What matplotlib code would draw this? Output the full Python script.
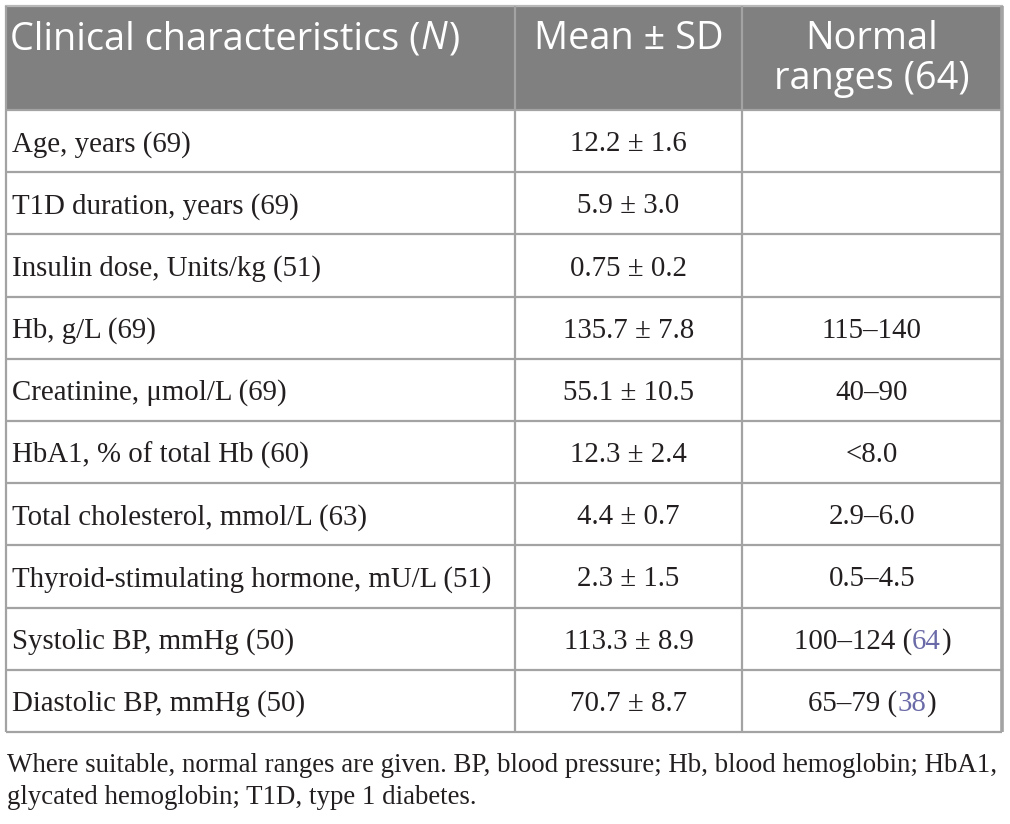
import matplotlib
matplotlib.use("Agg")
import matplotlib.pyplot as plt
from matplotlib.patches import Rectangle

# ---- data ----
header_col1 = [("Clinical characteristics (", "normal"), ("N", "italic"), (")", "normal")]
header_col2 = "Mean ± SD"
header_col3 = ["Normal", "ranges (64)"]

characteristics = [
    "Age, years (69)",
    "T1D duration, years (69)",
    "Insulin dose, Units/kg (51)",
    "Hb, g/L (69)",
    "Creatinine, μmol/L (69)",
    "HbA1, % of total Hb (60)",
    "Total cholesterol, mmol/L (63)",
    "Thyroid-stimulating hormone, mU/L (51)",
    "Systolic BP, mmHg (50)",
    "Diastolic BP, mmHg (50)",
]
mean_sd = ["12.2 ± 1.6", "5.9 ± 3.0", "0.75 ± 0.2", "135.7 ± 7.8", "55.1 ± 10.5",
           "12.3 ± 2.4", "4.4 ± 0.7", "2.3 ± 1.5", "113.3 ± 8.9", "70.7 ± 8.7"]
normal_ranges = ["", "", "", "115–140", "40–90", "<8.0", "2.9–6.0", "0.5–4.5",
                 "100–124 (64)", "65–79 (38)"]
footnote = ["Where suitable, normal ranges are given. BP, blood pressure; Hb, blood hemoglobin; HbA1,",
            "glycated hemoglobin; T1D, type 1 diabetes."]

W, H = 1010, 824
fig = plt.figure(figsize=(W / 100, H / 100), dpi=100)
ax = fig.add_axes([0, 0, 1, 1])
ax.set_xlim(0, W)
ax.set_ylim(H, 0)
ax.axis("off")

SERIF = ["Liberation Serif", "DejaVu Serif"]
SANS = ["Open Sans", "DejaVu Sans"]
BODY_FS = 20.8
FOOT_FS = 19.35
HEAD_FS = 27.3
TXT = "#231f20"
LINK = "#6a6aa8"
GRID = "#a3a3a3"
HEAD_BG = "#808080"

left, right = 6, 1002
top, head_bot = 6, 110
row_h = 62.2
col_x = [left, 515, 742, right]
n = len(characteristics)
bottom = head_bot + n * row_h

ax.add_patch(Rectangle((left, top), right - left, head_bot - top, facecolor=HEAD_BG, edgecolor="none", zorder=0))
lw = 1.6
for i in range(n + 1):
    y = head_bot + i * row_h
    ax.plot([left, right], [y, y], color=GRID, lw=lw, solid_capstyle="butt", zorder=1)
ax.plot([left, right], [top, top], color="#b8b8b8", lw=lw, zorder=1)
for x in col_x:
    ax.plot([x, x], [top, bottom], color=GRID, lw=lw if x != right else 2.6, solid_capstyle="butt", zorder=1)

fig.canvas.draw()
renderer = fig.canvas.get_renderer()


def text_w(s, fam, fs, st):
    if not s:
        return 0.0
    t = ax.text(0, 0, s, fontfamily=fam, fontsize=fs, fontstyle=st)
    w = t.get_window_extent(renderer).width
    t.remove()
    return w


def draw_runs(x, y, runs, fam, fs, ha="left"):
    full = "".join(s for s, _, _ in runs)
    tot = text_w(full, fam, fs, "normal")
    x0 = x - tot / 2 if ha == "center" else x
    prefix = ""
    for s, st, c in runs:
        off = text_w(prefix, fam, fs, "normal") if prefix else 0.0
        if prefix and prefix[-1] == " ":
            off = text_w(prefix + "x", fam, fs, "normal") - text_w("x", fam, fs, "normal")
        ax.text(x0 + off, y, s, fontfamily=fam, fontsize=fs, fontstyle=st, color=c, ha="left", va="center")
        prefix += s


# header
hy1, hy2 = 39, 79
draw_runs(10, hy1, [(s, st, "white") for s, st in header_col1], SANS, HEAD_FS)
ax.text((col_x[1] + col_x[2]) / 2, hy1, header_col2, fontfamily=SANS, fontsize=HEAD_FS, color="white", ha="center", va="center")
for k, line in enumerate(header_col3):
    ax.text((col_x[2] + col_x[3]) / 2, [hy1, hy2][k], line, fontfamily=SANS, fontsize=HEAD_FS, color="white", ha="center", va="center")

# body
for i in range(n):
    yc = head_bot + (i + 0.5) * row_h + 3
    ax.text(12, yc, characteristics[i], fontfamily=SERIF, fontsize=BODY_FS, color=TXT, ha="left", va="center")
    ax.text((col_x[1] + col_x[2]) / 2, yc, mean_sd[i], fontfamily=SERIF, fontsize=BODY_FS, color=TXT, ha="center", va="center")
    s = normal_ranges[i]
    if "(" in s:
        a, b = s.split("(")
        ref = b.rstrip(")")
        draw_runs((col_x[2] + col_x[3]) / 2, yc, [(a + "(", "normal", TXT), (ref, "normal", LINK), (")", "normal", TXT)],
                  SERIF, BODY_FS, ha="center")
    elif s:
        ax.text((col_x[2] + col_x[3]) / 2, yc, s, fontfamily=SERIF, fontsize=BODY_FS, color=TXT, ha="center", va="center")

for k, line in enumerate(footnote):
    ax.text(7, 766 + k * 31.5, line, fontfamily=SERIF, fontsize=FOOT_FS, color=TXT, ha="left", va="center")

fig.savefig("out.png", dpi=100, facecolor="white")
